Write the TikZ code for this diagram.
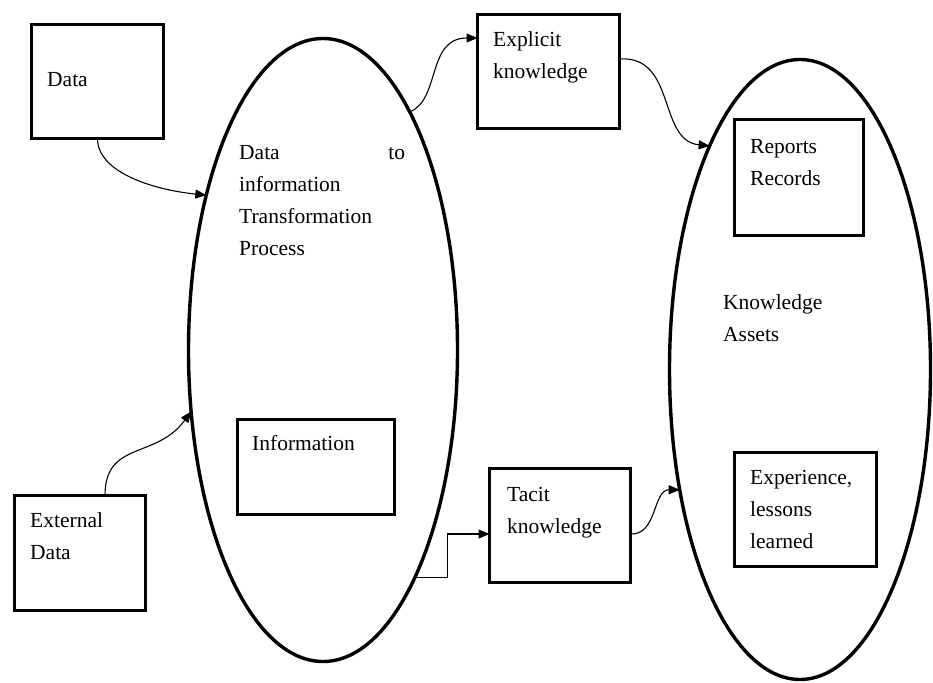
\documentclass[tikz,border=0pt]{standalone}
\usepackage{fontspec}
\setmainfont{Liberation Serif}
\usetikzlibrary{shapes.geometric,arrows.meta,calc}
\begin{document}
\begin{tikzpicture}[x=1pt,y=-1pt,
  box/.style={draw,line width=3.6pt,inner sep=0pt,outer sep=0pt,rectangle},
  blob/.style={ellipse,draw,line width=3.4pt,inner sep=0pt,outer sep=0pt},
  lbl/.style={anchor=base west,inner sep=0pt,align=left,font=\fontsize{21.5}{32}\selectfont},
  conn/.style={line width=1.1pt,-{Triangle[length=11pt,width=9pt]}}]
\useasboundingbox (0,0) rectangle (933,682);
% ellipses
\node[blob,minimum width=269pt,minimum height=623pt] (e1) at (323,350) {};
\node[blob,minimum width=261pt,minimum height=620pt] (e2) at (800,369.5) {};
% boxes
\node[box,minimum width=132pt,minimum height=114pt] (data) at (97.5,81.5) {};
\node[box,minimum width=142pt,minimum height=114pt] (expl) at (548.5,71.5) {};
\node[box,minimum width=129pt,minimum height=116pt] (rep) at (799,177.5) {};
\node[box,minimum width=157pt,minimum height=95pt] (info) at (316,467) {};
\node[box,minimum width=131pt,minimum height=115pt] (ext) at (80,553) {};
\node[box,minimum width=141pt,minimum height=114pt] (tac) at (560,525.5) {};
\node[box,minimum width=142pt,minimum height=114pt] (expr) at (805.5,509.5) {};
% texts (anchor = baseline of last line)
\node[lbl] (tdata) at (47,87) {Data};
\node[lbl] (tproc) at (239,255) {\hbox to 166pt{Data\hfill to}\\information\\Transformation\\Process};
\node[lbl] (texpl) at (493,78.5) {Explicit\\knowledge};
\node[lbl] (trep) at (750,185) {Reports\\Records};
\node[lbl] (tka) at (723,341) {Knowledge\\Assets};
\node[lbl] (tinfo) at (252,450) {Information};
\node[lbl] (text2) at (30,559) {External\\Data};
\node[lbl] (ttac) at (507,533) {Tacit\\knowledge};
\node[lbl] (texpr) at (750,548) {Experience,\\lessons\\learned};
% connectors
\draw[conn] (data.south) .. controls +(0,35) and +(-50,-5) .. (e1.127.6);
\draw[conn] ([xshift=25pt]ext.north) .. controls +(0,-55) and +(-35,48) .. (e1.205.7);
\draw[conn] (e1.70.5) .. controls +(31,-12) and +(-51,0) .. ([yshift=33.5pt]expl.west);
\draw[conn] ([yshift=12.5pt]expl.east) .. controls +(57,-4) and +(-52,-5) .. (e2.112.3);
\draw[conn] (e1.292.9) -- ++(33,0) |- ([yshift=-8.5pt]tac.west);
\draw[conn] ([yshift=-8.5pt]tac.east) .. controls +(27,1) and +(-27,0) .. (e2.225.3);
\end{tikzpicture}
\end{document}
